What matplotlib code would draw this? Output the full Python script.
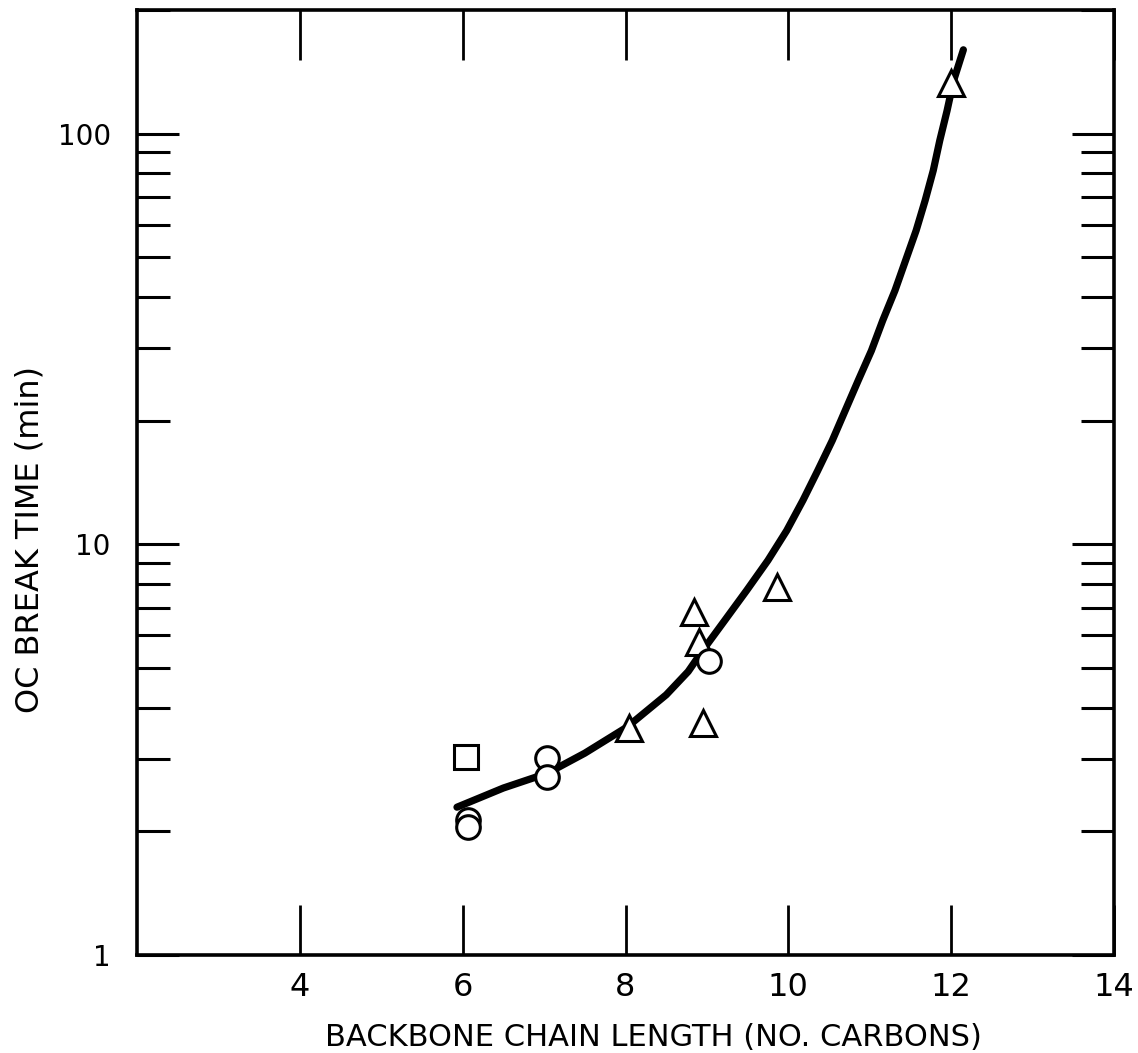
import matplotlib
matplotlib.use('Agg')
import matplotlib.pyplot as plt
from matplotlib.ticker import LogLocator, NullFormatter

plt.rcParams['font.family'] = ['DejaVu Sans']

# fitted curve, points
curve_x = [5.93, 6.5, 7.04, 7.5, 8.02, 8.5, 8.77, 8.95, 9.22, 9.49, 9.75,
           9.98, 10.18, 10.36, 10.54, 10.70, 10.86, 11.02, 11.16, 11.31,
           11.44, 11.57, 11.68, 11.78, 11.86, 11.95, 12.03, 12.15]
curve_y = [2.29, 2.55, 2.77, 3.10, 3.59, 4.30, 4.90, 5.52, 6.53, 7.73, 9.14,
           10.8, 12.8, 15.1, 17.9, 21.2, 25.1, 29.6, 35.1, 41.5,
           49.1, 58.1, 68.7, 81.3, 96.2, 113.8, 134.6, 160]

# measured points
tri_x = [12.0, 8.84, 8.90, 8.04, 8.95, 9.86]
tri_y = [133, 6.83, 5.78, 3.57, 3.67, 7.86]
circ_x = [9.03, 7.04, 7.04, 6.06, 6.06]
circ_y = [5.19, 3.02, 2.71, 2.13, 2.05]
sq_x = [6.04]
sq_y = [3.03]

xticks = [4, 6, 8, 10, 12, 14]
yticks = [1, 10, 100]

fig = plt.figure(figsize=(11.38, 10.53), dpi=100)
ax = fig.add_axes([0.1204, 0.0931, 0.8585, 0.8974])

ax.plot(curve_x, curve_y, color='black', lw=5.2, solid_capstyle='round',
        solid_joinstyle='round', zorder=2)

mk = dict(linestyle='none', mfc='white', mec='black', mew=2.2, zorder=3)
ax.plot(tri_x, tri_y, marker='^', ms=19, **mk)
ax.plot(circ_x, circ_y, marker='o', ms=17, **mk)
ax.plot(sq_x, sq_y, marker='s', ms=17, **mk)

ax.set_yscale('log')
ax.set_xlim(2, 14)
ax.set_ylim(1, 200)

ax.set_xticks(xticks)
ax.set_xticklabels([str(t) for t in xticks])
ax.set_yticks(yticks)
ax.set_yticklabels([str(t) for t in yticks])
ax.yaxis.set_minor_locator(LogLocator(base=10, subs=range(2, 10)))
ax.yaxis.set_minor_formatter(NullFormatter())

ax.tick_params(axis='x', which='major', direction='in', length=36, width=2,
               top=True, bottom=True, labelsize=23, pad=12)
ax.tick_params(axis='y', which='major', direction='in', length=30, width=2.2,
               left=True, right=True, labelsize=20, pad=19)
ax.tick_params(axis='y', which='minor', direction='in', length=24, width=2.2,
               left=True, right=True)

for s in ax.spines.values():
    s.set_linewidth(2.6)

ax.set_xlabel('BACKBONE CHAIN LENGTH (NO. CARBONS)', fontsize=22)
ax.xaxis.set_label_coords(0.529, -0.072)
ax.set_ylabel('OC BREAK TIME (min)', fontsize=23)
ax.yaxis.set_label_coords(-0.11, 0.44)
ax.yaxis.label.set_va('center')

fig.savefig('out.png', dpi=100)
